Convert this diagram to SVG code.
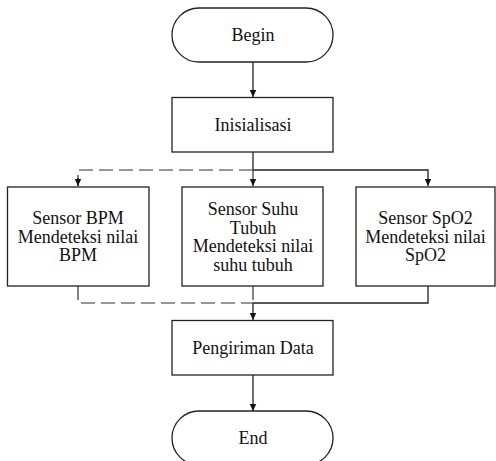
<svg xmlns="http://www.w3.org/2000/svg" width="496" height="461" viewBox="0 0 496 461">
<defs>
<marker id="ah" markerWidth="8" markerHeight="8" refX="7" refY="4" orient="auto" markerUnits="userSpaceOnUse">
<path d="M0,0.8 L7,4 L0,7.2 Z" fill="#111"/>
</marker>
</defs>
<rect width="496" height="461" fill="#fff"/>
<g id="connectors" fill="none" stroke="#222" stroke-width="1.3">
<line x1="253" y1="62" x2="253" y2="97" marker-end="url(#ah)"/>
<line x1="253" y1="152" x2="253" y2="170"/>
<polyline points="253,170 428,170 428,186" marker-end="url(#ah)"/>
<polyline points="253,170 78,170 78,186" stroke="#333" stroke-width="1.2" stroke-dasharray="14 6"/>
<line x1="78" y1="178" x2="78" y2="186" marker-end="url(#ah)"/>
<line x1="253" y1="170" x2="253" y2="186" stroke="#333" stroke-width="1.2" stroke-dasharray="14 6"/>
<line x1="253" y1="180" x2="253" y2="186" marker-end="url(#ah)"/>
<polyline points="78,286 78,303 253,303" stroke="#333" stroke-width="1.2" stroke-dasharray="14 6"/>
<line x1="253" y1="286" x2="253" y2="303" stroke="#333" stroke-width="1.2" stroke-dasharray="14 6"/>
<polyline points="428,286 428,303 253,303"/>
<line x1="253" y1="303" x2="253" y2="320" marker-end="url(#ah)"/>
<line x1="253" y1="375" x2="253" y2="411" marker-end="url(#ah)"/>
</g>
<g font-family="Liberation Serif, serif" font-size="18" fill="#111" text-anchor="middle">
<g id="begin">
<rect x="172" y="8" width="161" height="54" rx="27" ry="27" fill="#fff" stroke="#222" stroke-width="1.3"/>
<text x="253" y="41">Begin</text>
</g>
<g id="inisialisasi">
<rect x="172" y="97.5" width="161" height="54.5" fill="#fff" stroke="#222" stroke-width="1.3"/>
<text x="253" y="130.5">Inisialisasi</text>
</g>
<g id="sensor-bpm">
<rect x="7.5" y="187" width="141.5" height="99" fill="#fff" stroke="#222" stroke-width="1.3"/>
<text x="78" y="224">Sensor BPM</text>
<text x="78" y="242.5">Mendeteksi nilai</text>
<text x="78" y="261">BPM</text>
</g>
<g id="sensor-suhu">
<rect x="182" y="187" width="141" height="99" fill="#fff" stroke="#222" stroke-width="1.3"/>
<text x="253" y="215">Sensor Suhu</text>
<text x="253" y="233.5">Tubuh</text>
<text x="253" y="252">Mendeteksi nilai</text>
<text x="253" y="270.5">suhu tubuh</text>
</g>
<g id="sensor-spo2">
<rect x="356" y="187" width="139" height="99" fill="#fff" stroke="#222" stroke-width="1.3"/>
<text x="425.5" y="224">Sensor SpO2</text>
<text x="425.5" y="242.5">Mendeteksi nilai</text>
<text x="425.5" y="261">SpO2</text>
</g>
<g id="pengiriman">
<rect x="172" y="320.5" width="161" height="54.5" fill="#fff" stroke="#222" stroke-width="1.3"/>
<text x="253" y="353.5">Pengiriman Data</text>
</g>
<g id="end">
<rect x="172" y="411" width="161" height="54" rx="27" ry="27" fill="#fff" stroke="#222" stroke-width="1.3"/>
<text x="253" y="444">End</text>
</g>
</g>
</svg>
